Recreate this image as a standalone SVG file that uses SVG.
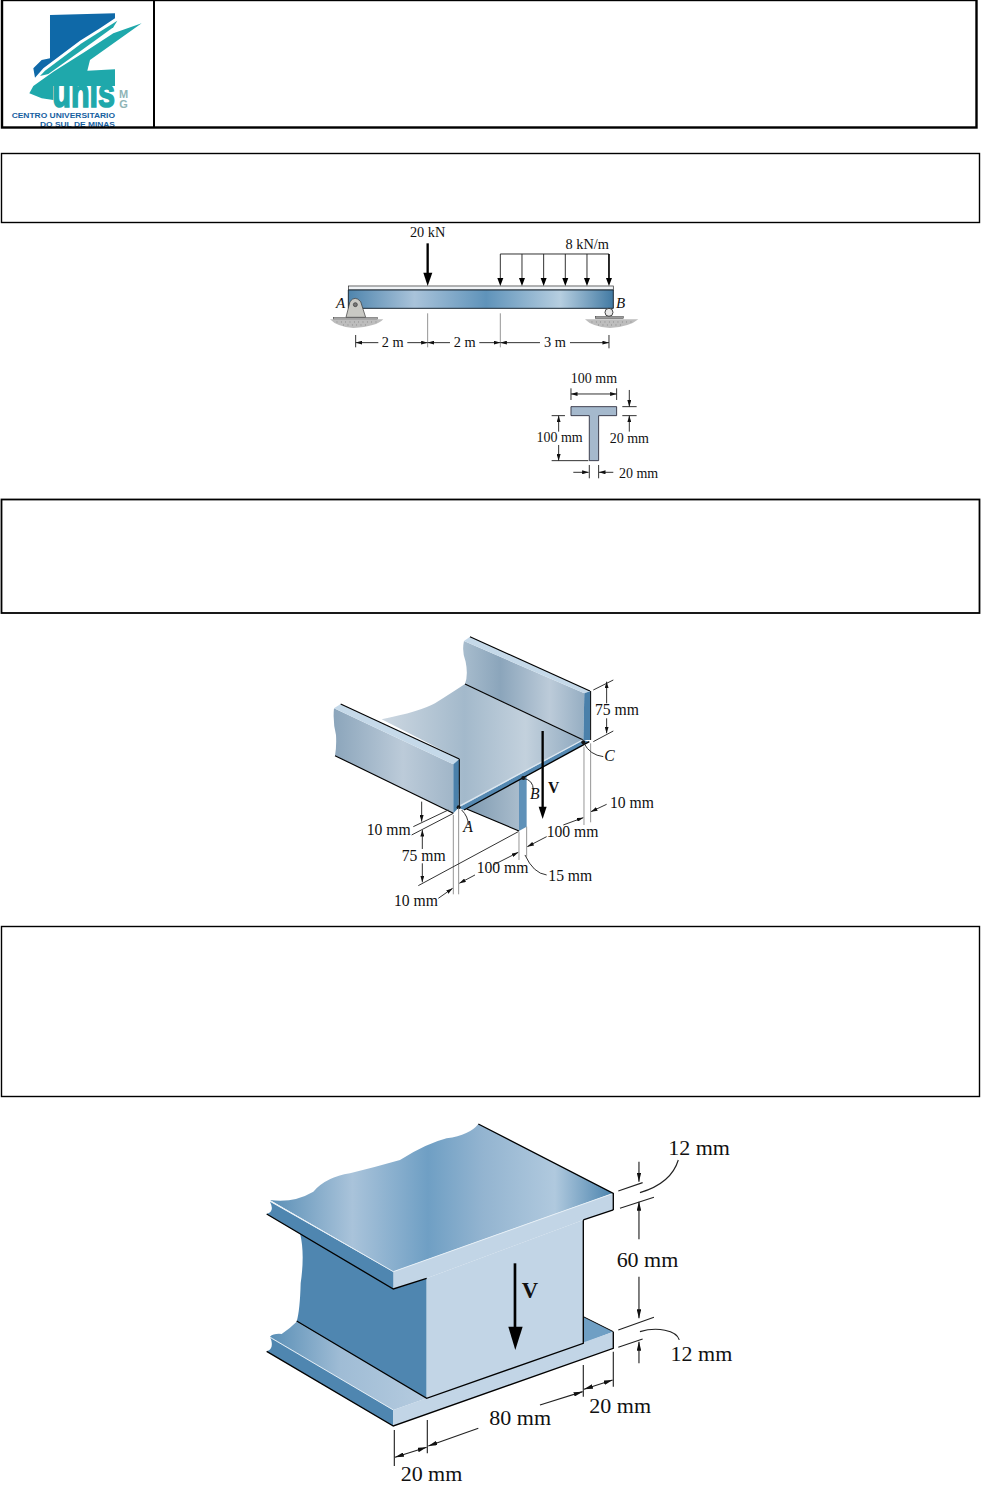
<svg xmlns="http://www.w3.org/2000/svg" width="981" height="1491" viewBox="0 0 981 1491">
<style>
.box{fill:none;stroke:#000}
.t{font-family:"Liberation Serif","Times New Roman",serif;fill:#111}
.s{font-family:"Liberation Sans",Arial,sans-serif;font-weight:bold}
.i{font-style:italic}
.b{font-weight:bold}
.d{fill:none;stroke:#222;stroke-width:2.8}
.d3{fill:none;stroke:#222;stroke-width:3.4}
.g{fill:none;stroke:#858585;stroke-width:2.6}
.k{fill:none;stroke:#000}
</style>
<defs>
<marker id="ah" viewBox="0 0 10 6" refX="10" refY="3" markerWidth="7" markerHeight="4.2" orient="auto-start-reverse" markerUnits="strokeWidth"><path d="M0 0L10 3L0 6Z" fill="#111"/></marker>
<marker id="ah3" viewBox="0 0 10 5" refX="10" refY="2.5" markerWidth="8" markerHeight="4" orient="auto-start-reverse" markerUnits="strokeWidth"><path d="M0 0L10 2.5L0 5Z" fill="#111"/></marker>
<linearGradient id="gb1" gradientUnits="userSpaceOnUse" x1="85" y1="0" x2="880" y2="0"><stop offset="0" stop-color="#4f85ad"/><stop offset=".25" stop-color="#a9c3da"/><stop offset=".52" stop-color="#5f93ba"/><stop offset=".8" stop-color="#b6cee0"/><stop offset="1" stop-color="#427aa3"/></linearGradient>
<linearGradient id="gw" gradientUnits="userSpaceOnUse" x1="40" y1="0" x2="420" y2="0"><stop offset="0" stop-color="#8ba5bb"/><stop offset=".55" stop-color="#bccbd9"/><stop offset="1" stop-color="#9db3c6"/></linearGradient>
<linearGradient id="gw2" gradientUnits="userSpaceOnUse" x1="430" y1="0" x2="800" y2="0"><stop offset="0" stop-color="#a7bccd"/><stop offset=".3" stop-color="#8ba5bb"/><stop offset=".7" stop-color="#bccbd9"/><stop offset="1" stop-color="#93acc1"/></linearGradient>
<linearGradient id="gf" gradientUnits="userSpaceOnUse" x1="190" y1="0" x2="800" y2="0"><stop offset="0" stop-color="#ccd7e1"/><stop offset=".4" stop-color="#a3b9cb"/><stop offset=".7" stop-color="#c3d1dd"/><stop offset="1" stop-color="#8ba6bd"/></linearGradient>
<linearGradient id="gs" gradientUnits="userSpaceOnUse" x1="440" y1="0" x2="597" y2="0"><stop offset="0" stop-color="#7e9ab1"/><stop offset="1" stop-color="#a9bccc"/></linearGradient>
<linearGradient id="gt" gradientUnits="userSpaceOnUse" x1="60" y1="0" x2="1090" y2="0"><stop offset="0" stop-color="#5a8fb6"/><stop offset=".24" stop-color="#a9c3da"/><stop offset=".46" stop-color="#6f9fc4"/><stop offset=".62" stop-color="#93b4d0"/><stop offset=".83" stop-color="#b0c9de"/><stop offset="1" stop-color="#4a83ad"/></linearGradient>
<linearGradient id="gl" gradientUnits="userSpaceOnUse" x1="60" y1="0" x2="530" y2="0"><stop offset="0" stop-color="#5a8fb6"/><stop offset=".45" stop-color="#9fbcd5"/><stop offset="1" stop-color="#b5cbdf"/></linearGradient>
<filter id="sp"><feGaussianBlur stdDeviation="2"/></filter>
</defs>

<g id="logo" transform="scale(.3333)">
<path d="M150 45L345 40L345 55L300 85L240 122L130 205L105 233L100 205L125 180L150 175Z" fill="#0f69a8"/>
<path d="M352 62L245 130L135 212L120 228L145 222L250 147L340 82Z" fill="#1fa8ab"/>
<path d="M425 70L340 100L255 155L160 215L100 258L88 280L125 295L160 300L160 258L345 258L345 208L262 212L270 180Z" fill="#1fa8ab"/>
<text class="s" transform="translate(157 320) scale(.75 1)" font-size="122" fill="#1fa8ab" stroke="#1fa8ab" stroke-width="5">unis</text>
<text class="s" x="357" y="294" font-size="33" fill="#8fb4b6">M</text>
<text class="s" x="358" y="323" font-size="33" fill="#8fb4b6">G</text>
<text class="s" x="35" y="355" font-size="24" fill="#16609f" textLength="310" lengthAdjust="spacingAndGlyphs">CENTRO UNIVERSITARIO</text>
<text class="s" x="120" y="382" font-size="24" fill="#16609f" textLength="225" lengthAdjust="spacingAndGlyphs">DO SUL DE MINAS</text>
</g>

<g id="header-box"><rect class="box" x="2" y="0" width="974.5" height="127.5" stroke-width="2.4"/><path class="box" d="M154 0V128" stroke-width="2"/></g>
<g id="box-1"><rect class="box" x="1.5" y="153.5" width="978" height="69" stroke-width="1.4"/></g>
<g id="box-2"><rect class="box" x="1.5" y="499.5" width="978" height="113.5" stroke-width="1.8"/></g>
<g id="box-3"><rect class="box" x="1.5" y="926.5" width="978" height="170" stroke-width="1.4"/></g>

<g id="beam-figure" transform="translate(320 220) scale(.3333)">
<path d="M30 298H190Q170 320 100 324Q50 320 30 298Z" fill="#bdbdbd" filter="url(#sp)"/>
<path d="M795 298H955Q930 320 870 324Q815 320 795 298Z" fill="#bdbdbd" filter="url(#sp)"/>
<path d="M50 306H170M70 315H140M815 306H935M835 315H905" fill="none" stroke="#666" stroke-width="2.5" stroke-dasharray="2 11"/>
<rect x="85" y="198" width="795" height="12" fill="#f0f3f6" stroke="#222" stroke-width="2"/>
<rect x="85" y="210" width="795" height="55" fill="url(#gb1)"/>
<path d="M85 210H880V265H85Z" fill="none" stroke="#1c2a36" stroke-width="3"/>
<path d="M78 292L90 245Q105 225 122 245L137 292Z" fill="#c9c9c4" stroke="#333" stroke-width="2"/>
<circle cx="106" cy="254" r="6" fill="#777" stroke="#333" stroke-width="2"/>
<rect x="40" y="293" width="132" height="4" fill="#ccc" stroke="#333" stroke-width="1.5"/>
<circle cx="867" cy="277" r="12" fill="#e8e8e8" stroke="#222" stroke-width="2.5"/>
<rect x="826" y="290" width="84" height="5" fill="#999" stroke="#333" stroke-width="1.5"/>
<text class="t i" x="48" y="265" font-size="45">A</text>
<text class="t i" x="888" y="265" font-size="45">B</text>
<path d="M323 70V165" stroke="#000" stroke-width="7" fill="none"/><path d="M310 158H337L323 198Z" fill="#000"/>
<path class="d" d="M541 102H867M541 102V175M606 102V175M671 102V175M736 102V175M801 102V175" stroke-width="3"/>
<path class="k" d="M867 102V175" stroke-width="5"/>
<path d="M532 174H550L541 198ZM597 174H615L606 198ZM662 174H680L671 198ZM727 174H745L736 198ZM792 174H810L801 198ZM858 174H876L867 198Z" fill="#000"/>
<text class="t" x="323" y="50" font-size="43" text-anchor="middle">20 kN</text>
<text class="t" x="802" y="86" font-size="43" text-anchor="middle">8 kN/m</text>
<path class="g" d="M323 280V382M541 280V382"/>
<path class="d" d="M107 345V382M867 345V385"/>
<path class="d" marker-start="url(#ah)" d="M107 368H175"/><path class="d" marker-end="url(#ah)" d="M262 368H323"/>
<path class="d" marker-start="url(#ah)" d="M323 368H390"/><path class="d" marker-end="url(#ah)" d="M478 368H541"/>
<path class="d" marker-start="url(#ah)" d="M541 368H660"/><path class="d" marker-end="url(#ah)" d="M750 368H867"/>
<text class="t" x="218" y="381" font-size="43" text-anchor="middle">2 m</text>
<text class="t" x="434" y="381" font-size="43" text-anchor="middle">2 m</text>
<text class="t" x="705" y="381" font-size="43" text-anchor="middle">3 m</text>
<path d="M753 560H890V587H836V722H808V587H753Z" fill="#a5b9cd" stroke="#223" stroke-width="2.5"/>
<path class="d" d="M753 505V540M890 505V540M907 560H950M907 587H950M695 587H735M695 722H805M808 735V775M836 735V775"/>
<path class="d" marker-start="url(#ah)" marker-end="url(#ah)" d="M753 522H890"/>
<path class="d" marker-end="url(#ah)" d="M928 510V560"/><path class="d" marker-end="url(#ah)" d="M928 635V587"/>
<path class="d" marker-end="url(#ah)" d="M716 635V587"/><path class="d" marker-end="url(#ah)" d="M716 675V722"/>
<path class="d" marker-end="url(#ah)" d="M760 757H806"/><path class="d" marker-end="url(#ah)" d="M880 757H837"/>
<text class="t" x="822" y="488" font-size="42" text-anchor="middle">100 mm</text>
<text class="t" x="719" y="666" font-size="42" text-anchor="middle">100 mm</text>
<text class="t" x="928" y="668" font-size="42" text-anchor="middle">20 mm</text>
<text class="t" x="897" y="775" font-size="42">20 mm</text>
</g>

<g id="channel-figure" transform="translate(320 625) scale(.3333)">
<path d="M440 552L597 462V618Z" fill="url(#gs)"/>
<path d="M440 552L597 618" class="k" stroke-width="3.5"/>
<path d="M597 465L620 452V605L597 618Z" fill="#5f91b8"/>
<path d="M432 48Q425 80 437 110Q445 150 435 177L790 345L793 205Z" fill="url(#gw2)"/>
<path d="M185 283Q300 260 345 235Q400 200 435 177L790 345L415 548L418 402Z" fill="url(#gf)"/>
<path d="M435 177L790 345" class="k" stroke-width="3.5"/>
<path d="M415 548L790 345L808 350L432 555Z" fill="#5488b1"/>
<path d="M416 545L788 345" fill="none" stroke="#dce7f0" stroke-width="4"/>
<path d="M432 555L808 350" class="k" stroke-width="4"/>
<path d="M42 250Q38 290 48 330Q50 365 45 392L400 565V418Z" fill="url(#gw)"/>
<path d="M62 237L418 402L400 418L42 250Z" fill="#c5d9e9"/>
<path d="M62 237L418 402" class="k" stroke-width="3.5"/>
<path d="M45 392L400 565" class="k" stroke-width="3.5"/>
<path d="M400 418L418 402L416 548L400 565Z" fill="#4a80aa"/>
<path d="M418 402V548" class="k" stroke-width="3"/>
<path d="M450 35L810 198L793 205L432 48Z" fill="#c5d9e9"/>
<path d="M450 35L810 198" class="k" stroke-width="3.5"/>
<path d="M793 205L812 198L810 345L790 345Z" fill="#4a80aa"/>
<path d="M812 198V345" class="k" stroke-width="3"/>
<circle cx="416" cy="547" r="6" fill="#111"/><circle cx="610" cy="459" r="6" fill="#111"/><circle cx="790" cy="352" r="6" fill="#111"/>
<path d="M668 318V550" class="k" stroke-width="7"/><path d="M656 545H680L668 582Z" fill="#000"/>
<path class="g" d="M400 570V808M416 548V808M597 620V705M620 605V695M792 365V600M812 355V592"/>
<path class="d" d="M820 195L880 165M820 350L880 318M280 605L385 555M275 630L400 565M295 782L595 620"/>
<path class="d" marker-end="url(#ah)" d="M860 235V170"/><path class="d" marker-end="url(#ah)" d="M860 280V325"/>
<path class="d" marker-end="url(#ah)" d="M860 538L813 560"/>
<path class="d" marker-end="url(#ah)" d="M730 600L790 578"/><path class="d" marker-end="url(#ah)" d="M680 635L622 665"/>
<path class="d" marker-end="url(#ah)" d="M520 720L595 682"/><path class="d" marker-end="url(#ah)" d="M465 750L418 775"/>
<path class="d" marker-end="url(#ah)" d="M355 820L398 790"/>
<path class="d" marker-end="url(#ah)" d="M305 530V590"/><path class="d" marker-end="url(#ah)" d="M307 672V615"/><path class="d" marker-end="url(#ah)" d="M307 715V772"/>
<path class="d" d="M425 555Q445 575 445 600M610 460Q640 465 640 495M792 355Q810 390 850 395M615 690Q640 745 680 750"/>
<text class="t" x="825" y="270" font-size="47">75 mm</text>
<text class="t i" x="853" y="408" font-size="47">C</text>
<text class="t" x="870" y="549" font-size="47">10 mm</text>
<text class="t" x="680" y="635" font-size="47">100 mm</text>
<text class="t i" x="630" y="522" font-size="47">B</text>
<text class="t b" x="684" y="505" font-size="47">V</text>
<text class="t i" x="430" y="622" font-size="47">A</text>
<text class="t" x="140" y="630" font-size="47">10 mm</text>
<text class="t" x="245" y="708" font-size="47">75 mm</text>
<text class="t" x="470" y="745" font-size="47">100 mm</text>
<text class="t" x="685" y="768" font-size="47">15 mm</text>
<text class="t" x="222" y="843" font-size="47">10 mm</text>
</g>

<g id="ibeam-figure" transform="translate(250 1110) scale(.3333)">
<path d="M60 680Q70 670 95 672Q120 655 140 635L530 865L430 900Z" fill="url(#gl)"/>
<path d="M1000 620L1090 665L1000 700Z" fill="#6f9fc4"/>
<path d="M60 680L430 900V948L50 724Q75 715 60 680Z" fill="#4f86b0"/>
<path d="M60 682L430 900" fill="none" stroke="#e6eff6" stroke-width="3"/>
<path d="M430 900L1090 665V715L430 948Z" fill="#c2d5e6"/>
<path d="M50 724L430 948L1090 715V665" class="k" stroke-width="4"/>
<path d="M150 370Q165 430 152 520Q150 600 140 635L530 865V505L430 537Z" fill="#4f86b0"/>
<path d="M530 505L1000 330V700L530 865Z" fill="#c2d5e6"/>
<path d="M140 633L530 865L1000 700V330" class="k" stroke-width="4"/>
<path d="M1000 620L1090 665" class="k" stroke-width="3"/>
<path d="M60 270Q130 280 190 245Q230 200 300 190Q380 170 450 150Q530 100 590 85Q660 75 685 42L1090 250L430 485Z" fill="url(#gt)"/>
<path d="M430 485L1090 250V300L1000 330L530 505L430 537Z" fill="#c2d5e6"/>
<path d="M60 275L430 485V537L50 312Q75 305 60 275Z" fill="#4f86b0"/>
<path d="M60 272L430 485L1090 250" fill="none" stroke="#e6eff6" stroke-width="3"/>
<path d="M685 42L1090 250V300" class="k" stroke-width="4"/>
<path d="M50 312L430 537L530 505M1090 300L1000 330" class="k" stroke-width="4"/>
<path d="M795 460V660" class="k" stroke-width="8"/><path d="M775 650H818L796 720Z" fill="#000"/>
<text class="t b" x="815" y="564" font-size="68">V</text>
<path class="d3" d="M1105 243L1178 218M1110 295L1212 262M1105 660L1212 622M1105 712L1178 687M1000 765V860M1090 725V830M532 930V1030M433 960V1068M1170 248C1230 230 1270 200 1285 150M1170 665C1220 650 1280 660 1288 690"/>
<path class="d3" marker-end="url(#ah3)" d="M1167 155V215"/><path class="d3" marker-end="url(#ah3)" d="M1167 388V275"/><path class="d3" marker-end="url(#ah3)" d="M1167 500V625"/><path class="d3" marker-end="url(#ah3)" d="M1167 760V695"/>
<path class="d3" marker-start="url(#ah3)" marker-end="url(#ah3)" d="M1002 838L1088 810"/>
<path class="d3" marker-start="url(#ah3)" marker-end="url(#ah3)" d="M435 1042L530 1012"/>
<path class="d3" marker-end="url(#ah3)" d="M870 885L998 845"/><path class="d3" marker-end="url(#ah3)" d="M685 955L535 1008"/>
<text class="t" x="1255" y="135" font-size="66">12 mm</text>
<text class="t" x="1100" y="470" font-size="66">60 mm</text>
<text class="t" x="1262" y="752" font-size="66">12 mm</text>
<text class="t" x="718" y="945" font-size="66">80 mm</text>
<text class="t" x="1018" y="908" font-size="66">20 mm</text>
<text class="t" x="452" y="1112" font-size="66">20 mm</text>
</g>
</svg>
